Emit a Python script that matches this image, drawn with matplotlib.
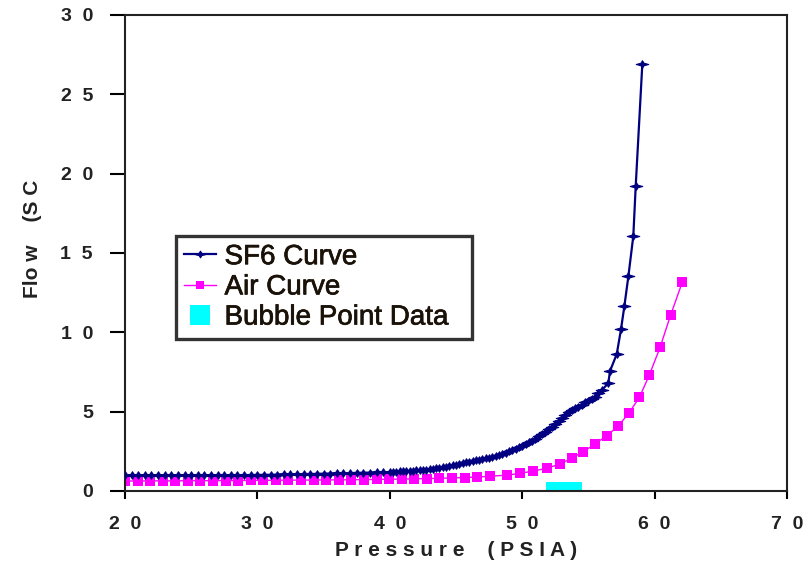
import matplotlib
matplotlib.use("Agg")
import matplotlib.pyplot as plt
import matplotlib.patheffects as pe
from matplotlib.path import Path

# SF6 curve (pressure psia, flow)
sf6_x = [20.0, 20.5, 21.0, 21.5, 22.0, 22.5, 23.0, 23.5, 24.0, 24.5, 25.0, 25.5, 26.0, 26.5,
         27.0, 27.5, 28.0, 28.5, 29.0, 29.5, 30.0, 30.5, 31.0, 31.5, 32.0, 32.5, 33.0, 33.5,
         34.0, 34.5, 35.0, 35.5, 36.0, 36.5, 37.0, 37.5, 38.0, 38.5, 39.0, 39.5, 40.0,
         40.25, 40.5, 40.75, 41.0, 41.25, 41.5, 41.75, 42.0, 42.25, 42.5, 42.75, 43.0,
         43.25, 43.5, 43.75, 44.0, 44.25, 44.5, 44.75, 45.0, 45.25, 45.5, 45.75, 46.0,
         46.25, 46.5, 46.75, 47.0, 47.25, 47.5, 47.75, 48.0, 48.25, 48.5, 48.75, 49.0,
         49.25, 49.5, 49.75, 50.0, 50.25, 50.5, 50.75, 51.0, 51.25, 51.5, 51.75, 52.0,
         52.25, 52.5, 52.75, 53.0, 53.25, 53.5, 53.75, 54.0, 54.25, 54.5, 54.75, 55.0,
         55.25, 55.5, 55.75, 56.0,
         56.5, 56.63, 57.14, 57.46, 57.72, 58.02, 58.39, 58.57, 59.07]
sf6_y = [1.00, 0.98, 0.99, 0.98, 0.99, 0.98, 0.99, 0.98, 0.99, 0.99, 0.99, 0.98, 0.99, 0.99,
         1.00, 0.99, 1.00, 1.00, 1.00, 1.01, 1.01, 1.02, 1.02, 1.03, 1.04, 1.05, 1.06, 1.07,
         1.07, 1.08, 1.09, 1.10, 1.11, 1.12, 1.13, 1.14, 1.15, 1.16, 1.17, 1.18, 1.20,
         1.21, 1.22, 1.23, 1.25, 1.26, 1.27, 1.29, 1.30, 1.32, 1.33, 1.35, 1.37,
         1.40, 1.43, 1.46, 1.50, 1.54, 1.58, 1.61, 1.65, 1.70, 1.75, 1.80, 1.85,
         1.89, 1.93, 1.96, 2.00, 2.05, 2.10, 2.15, 2.20, 2.26, 2.33, 2.41, 2.50,
         2.58, 2.66, 2.76, 2.85, 2.95, 3.06, 3.17, 3.30, 3.44, 3.58, 3.74, 3.90,
         4.05, 4.22, 4.40, 4.58, 4.78, 4.95, 5.08, 5.20, 5.32, 5.45, 5.58, 5.70,
         5.82, 5.95, 6.15, 6.35,
         6.79, 7.56, 8.63, 10.19, 11.68, 13.55, 16.07, 19.2, 26.9]

# Air curve
air_x = [20.0, 20.95, 21.9, 22.85, 23.8, 24.75, 25.7, 26.65, 27.6, 28.55, 29.5, 30.45,
         31.4, 32.35, 33.3, 34.25, 35.2, 36.15, 37.1, 38.05, 39.0, 39.95, 40.9, 41.85,
         42.8, 43.75, 44.7, 45.65, 46.6, 47.55, 48.83, 49.83, 50.84, 51.85, 52.85, 53.73,
         54.62, 55.5, 56.38, 57.26, 58.07, 58.85, 59.6, 60.41, 61.21, 62.1]
air_y = [0.63, 0.63, 0.64, 0.64, 0.64, 0.65, 0.65, 0.65, 0.66, 0.66, 0.67, 0.67,
         0.68, 0.68, 0.69, 0.69, 0.70, 0.70, 0.71, 0.72, 0.73, 0.74, 0.75, 0.77,
         0.78, 0.80, 0.82, 0.85, 0.88, 0.93, 1.00, 1.11, 1.26, 1.43, 1.70, 2.06,
         2.48, 2.96, 3.49, 4.10, 4.93, 5.90, 7.31, 9.05, 11.09, 13.19]

# Bubble point data
bubble_x = [52.1, 52.4, 52.7, 53.0, 53.3, 53.6, 53.9, 54.2]
bubble_y = [0.3, 0.3, 0.3, 0.3, 0.3, 0.3, 0.3, 0.3]

x_ticks = [20, 30, 40, 50, 60, 70]
x_labels = ["2  0", "3  0", "4  0", "5  0", "6  0", "7  0"]
y_ticks = [0, 5, 10, 15, 20, 25, 30]
y_labels = ["0", "5", "1  0", "1  5", "2  0", "2  5", "3  0"]

plt.rcParams['font.family'] = ['Liberation Sans', 'DejaVu Sans']

star = Path([(-1, 0), (-0.25, 0.2), (0, 0.6), (0.25, 0.2), (1, 0), (0.25, -0.2),
             (0, -0.6), (-0.25, -0.2), (-1, 0)], closed=True)

fig = plt.figure(figsize=(8.06, 5.70), dpi=100)
ax = fig.add_axes([0.155, 0.1386, 0.8215, 0.8351])

ax.plot(sf6_x, sf6_y, color='#000080', lw=1.6, marker=star, markersize=9,
        markeredgewidth=0.8, label='SF6 Curve', zorder=3)
ax.plot(air_x, air_y, color='#FF00FF', lw=1.0, marker='s', markersize=7.5,
        markeredgewidth=0, label='Air Curve', zorder=2)
ax.plot(bubble_x, bubble_y, color='#00FFFF', lw=0, marker='s', markersize=6,
        markeredgewidth=0, label='Bubble Point Data  ', zorder=2)

ax.set_xlim(20, 70)
ax.set_ylim(0, 30)
ax.set_xticks(x_ticks)
ax.set_xticklabels(x_labels, fontsize=14, fontweight='bold', color='#222222')
ax.set_yticks(y_ticks)
ax.set_yticklabels(y_labels, fontsize=14, fontweight='bold', color='#222222')
ax.tick_params(axis='y', direction='out', length=11, width=1.5, pad=12)
ax.tick_params(axis='x', direction='out', length=6, width=1.5, pad=12)
for sp in ax.spines.values():
    sp.set_linewidth(1.5)
    sp.set_color('#222222')

ax.set_xlabel("P r e s s u r e    ( P S I A )", fontsize=15, fontweight='bold',
              color='#222222', labelpad=6)
ax.set_ylabel("Flo w    (S C", fontsize=15, fontweight='bold', color='#222222')
ax.yaxis.set_label_coords(-0.126, 0.53)

leg = ax.legend(loc='upper left', bbox_to_anchor=(0.077, 0.536),
                prop={'size': 20}, labelcolor='#1a1208',
                frameon=True, fancybox=False, handlelength=1.15, handletextpad=0.3,
                borderpad=0.3, labelspacing=0.15, borderaxespad=0)
leg.get_frame().set_edgecolor('black')
leg.get_frame().set_linewidth(2.4)
for t in leg.get_texts():
    t.set_path_effects([pe.withStroke(linewidth=0.5, foreground='#1a1208')])
hs = leg.legend_handles
hs[0].set_markersize(8)
hs[1].set_markersize(6)
hs[2].set_markersize(15)

plt.savefig("out.png", dpi=100)
